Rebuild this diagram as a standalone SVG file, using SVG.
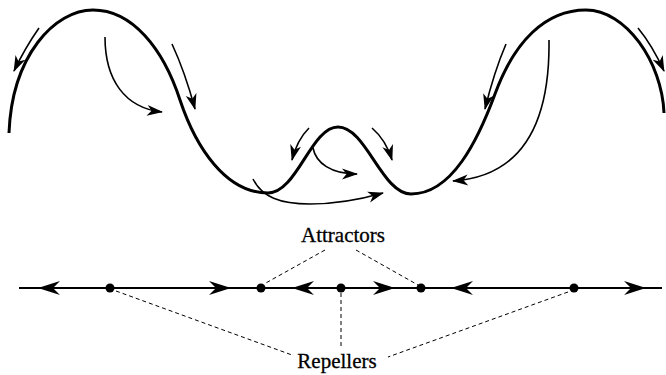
<svg xmlns="http://www.w3.org/2000/svg" width="666" height="375" viewBox="0 0 666 375">
<style>
.curve{fill:none;stroke:#000;stroke-width:3;stroke-linecap:butt}
.arr{fill:none;stroke:#000;stroke-width:1.6;marker-end:url(#head)}
.axis{fill:none;stroke:#000;stroke-width:2}
.dash{fill:none;stroke:#000;stroke-width:1;stroke-dasharray:4 3}
.lbl{font-family:"Liberation Serif","DejaVu Serif",serif;font-size:21px;fill:#000;text-anchor:middle;stroke:#000;stroke-width:0.3}
</style>
<defs>
<marker id="head" markerUnits="userSpaceOnUse" markerWidth="18" markerHeight="14" refX="15" refY="5.5" orient="auto" overflow="visible">
<path d="M0,0 L16,5.5 L0,11 L4.5,5.5 z" fill="#000"/>
</marker>
<path id="ah" d="M0,0 L-22,-7 L-15,0 L-22,7 z" fill="#000"/>
</defs>
<g id="landscape">
<path class="curve" d="M9,133 C12,55 55,10 93,10 C132,10 163,48 180,100 C196,148 226,193 268,193 C297,193 311,127 338,127 C366,127 382,194 411,194 C452,194 478,140 495,94 C514,42 545,10 586,10 C626,10 662,62 664,113"/>
</g>
<g id="flow-arrows">
<path class="arr" d="M39,28 Q25,48 14,71"/>
<path class="arr" d="M105,37 C105,80 125,108 162,112"/>
<path class="arr" d="M172,44 Q185,72 195,109"/>
<path class="arr" d="M309,128 Q297,140 292,160"/>
<path class="arr" d="M313,148 C316,163 331,174 357,174"/>
<path class="arr" d="M372,128 Q386,140 392,160"/>
<path class="arr" d="M253,179 C262,197 280,204 310,204 C340,204 362,199 383,193"/>
<path class="arr" d="M506,44 Q494,72 485,109"/>
<path class="arr" d="M549,40 C550,120 525,176 453,181"/>
<path class="arr" d="M638,28 Q652,45 664,71"/>
</g>
<g id="phase-line">
<line class="axis" x1="19" y1="288" x2="662" y2="288"/>
<use href="#ah" transform="translate(38,288) rotate(180)"/>
<use href="#ah" transform="translate(231,288)"/>
<use href="#ah" transform="translate(292,288) rotate(180)"/>
<use href="#ah" transform="translate(395,288)"/>
<use href="#ah" transform="translate(451,288) rotate(180)"/>
<use href="#ah" transform="translate(646,288)"/>
</g>
<g id="repeller1"><circle cx="110" cy="288" r="4.5"/></g>
<g id="attractor1"><circle cx="261" cy="288" r="4.5"/></g>
<g id="repeller2"><circle cx="341" cy="288" r="4.5"/></g>
<g id="attractor2"><circle cx="421" cy="288" r="4.5"/></g>
<g id="repeller3"><circle cx="574" cy="288" r="4.5"/></g>
<g id="connectors">
<line class="dash" x1="325" y1="250" x2="264" y2="284"/>
<line class="dash" x1="356" y1="250" x2="418" y2="285"/>
<line class="dash" x1="116" y1="291" x2="292" y2="355"/>
<line class="dash" x1="341" y1="293" x2="341" y2="347"/>
<line class="dash" x1="568" y1="292" x2="388" y2="357"/>
</g>
<g id="label-attractors"><text class="lbl" x="343" y="242">Attractors</text></g>
<g id="label-repellers"><text class="lbl" x="337" y="368">Repellers</text></g>
</svg>
